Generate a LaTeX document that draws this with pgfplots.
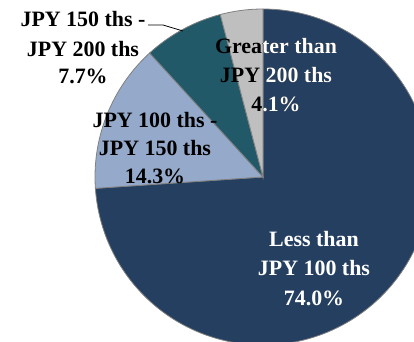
\documentclass[border=0pt]{standalone}
\usepackage{fontspec}
\setmainfont{Liberation Serif}
\usepackage{pgfplots}
\usepackage{pgfplotstable}
\pgfplotsset{compat=1.18}
\definecolor{navy}{HTML}{243F60}
\definecolor{lblue}{HTML}{95A9CA}
\definecolor{tealc}{HTML}{215968}
\definecolor{lgray}{HTML}{BFBFBF}
\definecolor{edge}{HTML}{808080}
\pgfplotstableread{
share
74.0
14.3
7.7
4.1
}\shares
\pgfplotstablegetelem{0}{share}\of\shares \let\va\pgfplotsretval
\pgfplotstablegetelem{1}{share}\of\shares \let\vb\pgfplotsretval
\pgfplotstablegetelem{2}{share}\of\shares \let\vc\pgfplotsretval
\pgfplotstablegetelem{3}{share}\of\shares \let\vd\pgfplotsretval
\pgfmathsetmacro\tot{\va+\vb+\vc+\vd}
\pgfmathsetmacro\aA{\va/\tot*360}
\pgfmathsetmacro\aB{(\va+\vb)/\tot*360}
\pgfmathsetmacro\aC{(\va+\vb+\vc)/\tot*360}
\newcommand\lbl{\fontsize{22}{27}\selectfont\bfseries}
\begin{document}
\begin{tikzpicture}
\begin{axis}[name=ax, scale only axis, width=414bp, height=342bp,
  xmin=0, xmax=414, ymin=0, ymax=342, y dir=reverse,
  hide axis, clip=true]
\addplot[fill=navy, draw=edge, line width=0.8pt, domain=0:\aA, samples=150, variable=\t]
  ({263+168*sin(\t)},{177-168*cos(\t)}) -- (axis cs:263,177) -- cycle;
\addplot[fill=lblue, draw=edge, line width=0.8pt, domain=\aA:\aB, samples=40, variable=\t]
  ({263+168*sin(\t)},{177-168*cos(\t)}) -- (axis cs:263,177) -- cycle;
\addplot[fill=tealc, draw=edge, line width=0.8pt, domain=\aB:\aC, samples=30, variable=\t]
  ({263+168*sin(\t)},{177-168*cos(\t)}) -- (axis cs:263,177) -- cycle;
\addplot[fill=lgray, draw=edge, line width=0.8pt, domain=\aC:360, samples=20, variable=\t]
  ({263+168*sin(\t)},{177-168*cos(\t)}) -- (axis cs:263,177) -- cycle;
% leader line
\draw[black, line width=0.8pt] (axis cs:148,25) -- (axis cs:163,25) -- (axis cs:183,31);
% labels
\node[anchor=base, black] at (axis cs:83,27) {\lbl JPY 150 ths -};
\node[anchor=base, black] at (axis cs:83,56) {\lbl JPY 200 ths};
\node[anchor=base, black] at (axis cs:83,83) {\lbl 7.7\%};
\node[anchor=base, black] at (axis cs:155,127) {\lbl JPY 100 ths -};
\node[anchor=base, black] at (axis cs:155,155) {\lbl JPY 150 ths};
\node[anchor=base, black] at (axis cs:155,183) {\lbl 14.3\%};
\node[anchor=base, white] at (axis cs:314,246) {\lbl Less than};
\node[anchor=base, white] at (axis cs:314,275) {\lbl JPY 100 ths};
\node[anchor=base, white] at (axis cs:314,305) {\lbl 74.0\%};
\node[anchor=base, black] at (axis cs:276,53) {\lbl Greater than};
\node[anchor=base, black] at (axis cs:276,82) {\lbl JPY 200 ths};
\node[anchor=base, black] at (axis cs:276,111) {\lbl 4.1\%};
\begin{scope}
\clip (axis cs:263,0) rectangle (axis cs:414,342);
\node[anchor=base, white] at (axis cs:276,53) {\lbl Greater than};
\node[anchor=base, white] at (axis cs:276,82) {\lbl JPY 200 ths};
\node[anchor=base, white] at (axis cs:276,111) {\lbl 4.1\%};
\end{scope}
\end{axis}
\useasboundingbox (ax.south west) rectangle (ax.north east);
\end{tikzpicture}
\end{document}
